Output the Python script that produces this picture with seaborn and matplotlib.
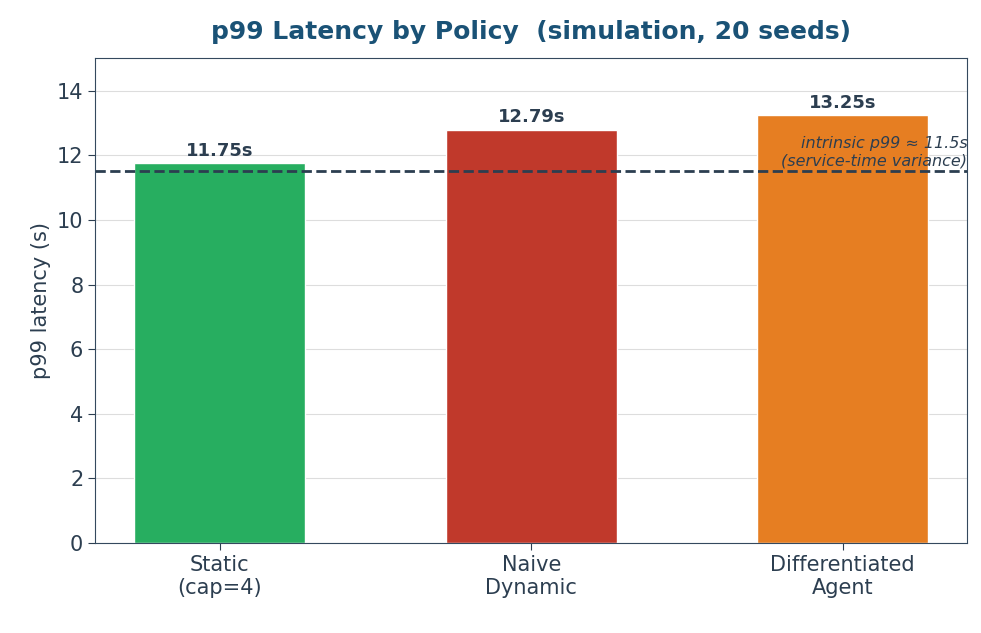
import matplotlib
matplotlib.use("Agg")
import matplotlib.pyplot as plt
import seaborn as sns
import pandas as pd

policies = ["Static\n(cap=4)", "Naive\nDynamic", "Differentiated\nAgent"]
p99 = [11.75, 12.79, 13.25]
colours = ["#27ae60", "#c0392b", "#e67e22"]
intrinsic = 11.5

sns.set_style("whitegrid")
plt.rcParams["font.family"] = ["DejaVu Sans"]
txt = "#2c3e50"

df = pd.DataFrame({"policy": policies, "p99": p99})
fig, ax = plt.subplots(figsize=(9.81, 6.33), dpi=100)
sns.barplot(data=df, x="policy", y="p99", hue="policy", palette=colours,
            width=0.55, saturation=1, legend=False, ax=ax)

for i, v in enumerate(p99):
    ax.text(i, v + 0.1, f"{v:.2f}s", ha="center", va="bottom",
            fontsize=13, fontweight="bold", color=txt)

ax.axhline(intrinsic, color=txt, linestyle="--", linewidth=2)
ax.text(2.4, intrinsic + 0.1, "intrinsic p99 ≈ 11.5s\n(service-time variance)",
        ha="right", va="bottom", fontsize=11.5, style="italic", color=txt)

ax.set_xlim(-0.4, 2.4)
ax.set_ylim(0, 15)
ax.set_xlabel("")
ax.set_ylabel("p99 latency (s)", fontsize=15, color=txt)
ax.set_title("p99 Latency by Policy  (simulation, 20 seeds)", fontsize=18,
             fontweight="bold", color="#1a5276", pad=14)
ax.tick_params(axis="both", labelsize=15, colors=txt, length=5)
ax.tick_params(axis="both", which="both", bottom=True, left=True)
ax.xaxis.grid(False)
ax.yaxis.grid(True, color="#dddddd")
for s in ax.spines.values():
    s.set_color("#34495e")

plt.subplots_adjust(left=0.097, right=0.986, top=0.908, bottom=0.142)
plt.savefig("out.png", dpi=100)
